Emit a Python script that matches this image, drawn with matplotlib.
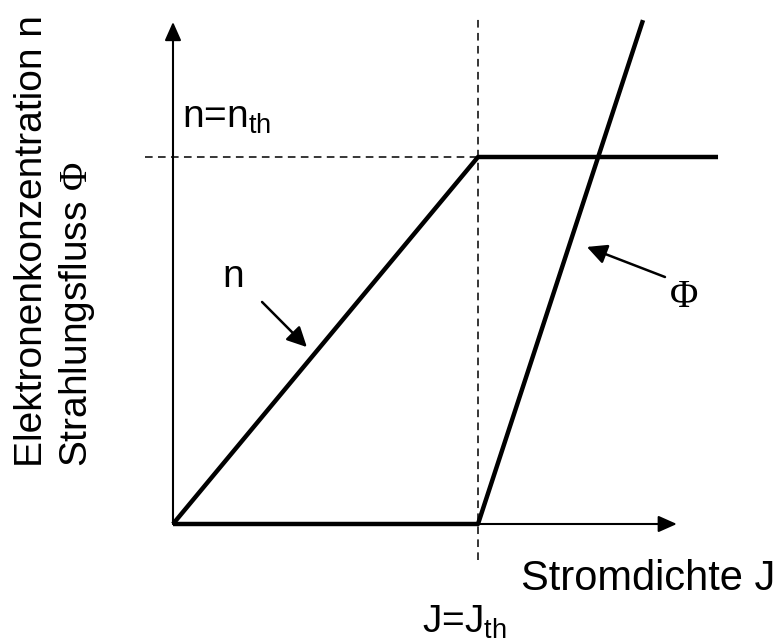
import matplotlib
matplotlib.use("Agg")
import matplotlib.pyplot as plt

plt.rcParams['font.family'] = ['Liberation Sans', 'DejaVu Sans']
plt.rcParams['mathtext.fontset'] = 'custom'
plt.rcParams['mathtext.rm'] = 'Liberation Sans'
plt.rcParams['mathtext.it'] = 'Liberation Sans:italic'
plt.rcParams['mathtext.sf'] = 'Liberation Serif'

# schematic values (J in units of J_th, n in units of n_th)
J_th = 1.0
n_th = 1.0
J_n = [0.0, J_th, 1.787]
n_vals = [0.0, n_th, n_th]
J_phi = [0.0, J_th, 1.541]
phi_vals = [0.0, 0.0, 1.373]

x_axis_end = 1.652
y_axis_end = 1.368

xlabel = "Stromdichte J"
ylabel1 = "Elektronenkonzentration n"
ylabel2 = r"Strahlungsfluss $\mathsf{\Phi}$"
nth_label = r"n=n$_{\mathrm{th}}$"
jth_label = r"J=J$_{\mathrm{th}}$"

fig = plt.figure(figsize=(7.79, 6.44), dpi=100)
ax = fig.add_axes([0, 0, 1, 1])
ax.set_xlim(-0.5672, 1.9869)
ax.set_ylim(-0.3270, 1.4278)
ax.axis('off')

# axes with arrows
axis_arrow = dict(arrowstyle='-|>,head_length=0.45,head_width=0.2', lw=1.5,
                  color='black', mutation_scale=25, shrinkA=0, shrinkB=0)
ax.annotate('', xy=(0, y_axis_end), xytext=(0, 0), arrowprops=axis_arrow)
ax.annotate('', xy=(x_axis_end, 0), xytext=(0, 0), arrowprops=axis_arrow)

# threshold guide lines
ax.plot([-0.092, 1.636], [n_th, n_th], color='black', lw=1.1, ls=(0, (5, 3.5)))
ax.plot([J_th, J_th], [-0.098, 1.387], color='black', lw=1.1, ls=(0, (5, 3.5)))

# curves
ax.plot(J_n, n_vals, color='black', lw=3.2, solid_capstyle='butt')
ax.plot(J_phi, phi_vals, color='black', lw=3.2, solid_capstyle='butt')

# labels
fs = 28
ax.text(0.0295, 1.079, nth_label, fontsize=fs, ha='left', va='baseline')
ax.text(1.141, -0.180, xlabel, fontsize=30, ha='left', va='baseline')
ax.text(0.816, -0.297, jth_label, fontsize=fs, ha='left', va='baseline')
ax.text(-0.430, 0.155, ylabel1, fontsize=fs, rotation=90,
        rotation_mode='anchor', ha='left', va='baseline')
ax.text(-0.282, 0.155, ylabel2, fontsize=fs, rotation=90,
        rotation_mode='anchor', ha='left', va='baseline')

# curve annotations
note_arrow = dict(arrowstyle='-|>,head_length=0.6,head_width=0.3', lw=1.8,
                  color='black', mutation_scale=20, shrinkA=0, shrinkB=0)
ax.text(0.161, 0.646, "n", fontsize=fs, ha='left', va='baseline')
ax.annotate('', xy=(0.439, 0.482), xytext=(0.292, 0.605), arrowprops=note_arrow)
ax.text(1.675, 0.616, "\u03a6", fontsize=fs, family='Liberation Serif',
        ha='center', va='center')
ax.annotate('', xy=(1.357, 0.755), xytext=(1.613, 0.673), arrowprops=note_arrow)

fig.savefig("out.png", dpi=100)
